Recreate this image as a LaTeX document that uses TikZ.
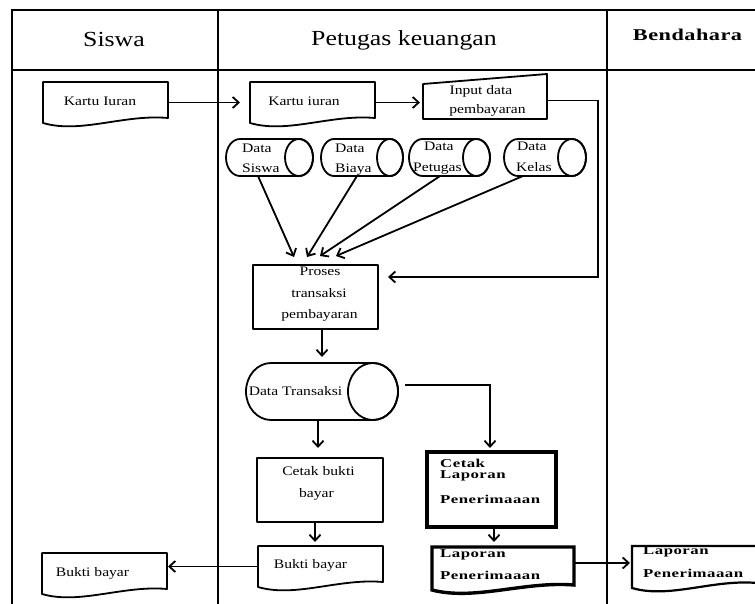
\documentclass[tikz,border=0pt]{standalone}
\usepackage{fontspec}
\setmainfont{Liberation Serif}[FakeStretch=1.2]
\newfontfamily\bendfont{Liberation Serif}[FakeStretch=1.35,LetterSpace=3]
\newfontfamily\lapfont{Liberation Serif}[FakeStretch=1.4,LetterSpace=4]
\usetikzlibrary{arrows.meta,calc}

\newcommand\docoutline[2][]{%
 \draw[#1] (#2.south west) -- (#2.north west) -- (#2.north east) -- ([yshift=5pt]#2.south east)
   .. controls ($(#2.south west)!0.65!(#2.south east)+(0pt,9pt)$) and ($(#2.south west)!0.3!(#2.south east)+(0pt,-11pt)$) .. (#2.south west) -- cycle;}
\newcommand\cyloutline[4][]{%
 \draw[#1] ([xshift=#3]#2.north west) -- ([xshift=-#3]#2.north east)
   arc[start angle=90,end angle=-90,x radius=#3,y radius=#4]
   -- ([xshift=#3]#2.south west)
   arc[start angle=270,end angle=90,x radius=#3,y radius=#4] -- cycle;
 \draw[#1] ([xshift=-#3]#2.east) ellipse[x radius=#3,y radius=#4];}
\newcommand\inoutline[2][]{%
 \draw[#1] ([yshift=-10pt]#2.north west) -- (#2.north east) -- (#2.south east) -- (#2.south west) -- cycle;}

\tikzset{
 lane/.style={line width=2pt},
 shp/.style={inner sep=0pt, outer sep=0pt, draw=none},
 ol/.style={line width=1.8pt, line join=round},
 olthick/.style={line width=3.4pt, line join=miter},
 olmid/.style={line width=2.2pt, line join=miter},
 arr/.style={line width=1.8pt, -{Straight Barb[length=6pt,width=11pt]}},
 txt/.style={inner sep=0pt, font=\fontsize{13}{15}\selectfont, anchor=base},
 txtl/.style={txt, anchor=base west},
 hdr/.style={inner sep=0pt, font=\fontsize{21.5}{25}\selectfont, anchor=base},
 lap/.style={inner sep=0pt, font=\lapfont\bfseries\fontsize{12}{14}\selectfont, anchor=base west},
}

\begin{document}
\begin{tikzpicture}[x=1pt,y=-1pt]
\useasboundingbox (0,0) rectangle (755,604);
\fill[white] (0,0) rectangle (755,604);
\clip (0,0) rectangle (755,604);

% swimlanes
\draw[lane] (12,604) -- (12,10) -- (760,10);
\draw[lane] (12,70) -- (760,70);
\draw[lane] (218,10) -- (218,604);
\draw[lane] (607,10) -- (607,604);

\node[hdr] (hS) at (114,47) {Siswa};
\node[hdr] (hP) at (404,46) {Petugas keuangan};
\node[inner sep=0pt, font=\bendfont\bfseries\fontsize{16.5}{20}\selectfont, anchor=base] (hB) at (687.5,41) {Bendahara};

% shape nodes
\node[shp, minimum width=125pt, minimum height=41pt] (k1) at (105.5,102.5) {};
\node[shp, minimum width=125pt, minimum height=41pt] (k2) at (312.5,102.5) {};
\node[shp, minimum width=124pt, minimum height=45pt] (inp) at (485,96.5) {};
\node[shp, minimum width=87pt, minimum height=37pt] (cS) at (269.5,157.5) {};
\node[shp, minimum width=82pt, minimum height=37pt] (cB) at (362,157.5) {};
\node[shp, minimum width=81pt, minimum height=37pt] (cP) at (449.5,157.5) {};
\node[shp, minimum width=82pt, minimum height=37pt] (cK) at (545,157.5) {};
\node[shp, minimum width=125pt, minimum height=64pt] (pr) at (315.5,297) {};
\node[shp, minimum width=152pt, minimum height=57pt] (dt) at (322,391.5) {};
\node[shp, minimum width=126pt, minimum height=64pt] (cb) at (320,490) {};
\node[shp, minimum width=125pt, minimum height=41pt] (bb) at (320.5,566.5) {};
\node[shp, minimum width=125pt, minimum height=41pt] (bs) at (104.5,573.5) {};
\node[shp, minimum width=129pt, minimum height=75pt] (cl) at (491.5,489.5) {};
\node[shp, minimum width=142pt, minimum height=43pt] (lp) at (503,568.5) {};
\node[shp, minimum width=125pt, minimum height=42pt] (lb) at (694.5,567) {};

% outlines
\docoutline[ol]{k1}
\docoutline[ol]{k2}
\inoutline[ol]{inp}
\cyloutline[ol]{cS}{14pt}{18.5pt}
\cyloutline[ol]{cB}{13pt}{18.5pt}
\cyloutline[ol]{cP}{13.5pt}{18.5pt}
\cyloutline[ol]{cK}{14pt}{18.5pt}
\draw[ol] (pr.north west) rectangle (pr.south east);
\cyloutline[ol]{dt}{25pt}{28.5pt}
\draw[ol] (cb.north west) rectangle (cb.south east);
\docoutline[ol]{bb}
\docoutline[ol]{bs}
\draw[olthick] (cl.north west) rectangle (cl.south east);
\docoutline[olthick]{lp}
\docoutline[olmid]{lb}

% texts
\node[txt] (t1) at (100,106) {Kartu Iuran};
\node[txt] (t2) at (304,106) {Kartu iuran};
\node[txt] (t3a) at (481,95) {Input data};
\node[txt] (t3b) at (487.5,114) {pembayaran};
\node[txtl] (t4a) at (242,153) {Data};
\node[txtl] (t4b) at (242,173) {Siswa};
\node[txtl] (t5a) at (335,153) {Data};
\node[txtl] (t5b) at (335,173) {Biaya};
\node[txtl] (t6a) at (424,151) {Data};
\node[txtl] (t6b) at (413,172) {Petugas};
\node[txtl] (t7a) at (517,151) {Data};
\node[txtl] (t7b) at (516,172) {Kelas};
\node[txt] (t8a) at (320,276) {Proses};
\node[txt] (t8b) at (319,297) {transaksi};
\node[txt] (t8c) at (319.5,318) {pembayaran};
\node[txt] (t9) at (295.5,395) {Data Transaksi};
\node[txt] (t10a) at (318.5,475) {Cetak bukti};
\node[txt] (t10b) at (316.5,497) {bayar};
\node[txt] (t11) at (310.5,568) {Bukti bayar};
\node[txt] (t12) at (92.5,576) {Bukti bayar};
\node[lap] (t13a) at (440,467) {Cetak};
\node[lap] (t13b) at (440,478) {Laporan};
\node[lap] (t13c) at (440,503) {Penerimaaan};
\node[lap] (t14a) at (440,557) {Laporan};
\node[lap] (t14b) at (440,579) {Penerimaaan};
\node[lap] (t15a) at (643,554) {Laporan};
\node[lap] (t15b) at (643,577) {Penerimaaan};

% connectors
\draw[arr] (k1.east) -- ([xshift=-10pt]k2.west);
\draw[arr, shorten >=3pt] (k2.east) -- (k2.east -| inp.west);
\coordinate (c1) at (598,100.5);
\draw[arr, shorten >=10pt] ([yshift=-4pt]inp.east) -- (c1) |- ([yshift=20pt]pr.east);
\draw[arr] ([xshift=-11.5pt]cS.south) -- ([xshift=-21.5pt,yshift=8pt]pr.north);
\draw[arr] ([xshift=-5pt]cB.south) -- ([xshift=-8.5pt,yshift=8pt]pr.north);
\draw[arr] ([xshift=-9.5pt]cP.south) -- ([xshift=4.5pt,yshift=9pt]pr.north);
\draw[arr] ([xshift=-22pt]cK.south) -- ([xshift=20.5pt,yshift=9pt]pr.north);
\draw[arr, shorten >=6pt] (pr.south -| dt.north) -- (dt.north);
\draw[arr] ([xshift=-4pt]dt.south) -- ([xshift=-2pt,yshift=10pt]cb.north);
\draw[arr] ([xshift=7pt,yshift=6.5pt]dt.east) -| ([xshift=-1.5pt,yshift=4pt]cl.north);
\draw[arr, shorten >=4pt] ([xshift=-5pt]cb.south) -- ([xshift=-5.5pt]bb.north);
\draw[arr, shorten >=1pt] (bb.west) -- (bb.west -| bs.east);
\draw[arr, shorten >=5pt] ([xshift=2.5pt]cl.south) -- ([xshift=-9pt]lp.north);
\draw[arr, shorten >=2pt] ([yshift=5.5pt]lp.east) -- ([yshift=4pt]lb.west);
\end{tikzpicture}
\end{document}
